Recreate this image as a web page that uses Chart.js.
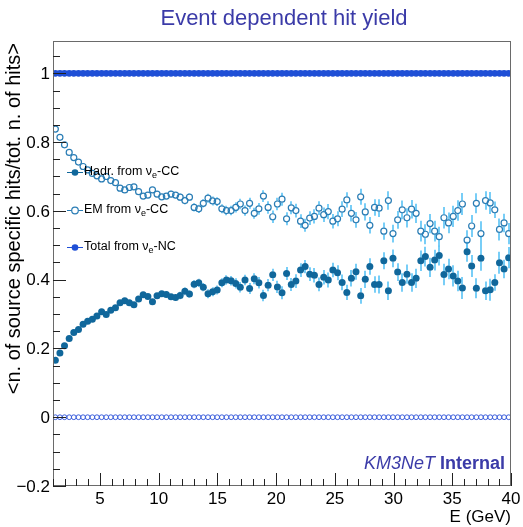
<!DOCTYPE html>
<html><head><meta charset="utf-8">
<script src="https://cdn.jsdelivr.net/npm/chart.js@4"></script>
<style>html,body{margin:0;padding:0;background:#fff}#wrap{width:523px;height:527px}</style>
</head><body><div id="wrap"><canvas id="c" width="523" height="527"></canvas></div>
<script>
// ---------- data ----------
const energy = [1.20,1.59,1.98,2.38,2.77,3.17,3.56,3.95,4.35,4.74,
5.14,5.53,5.92,6.32,6.71,7.11,7.50,7.89,8.29,8.68,
9.08,9.47,9.86,10.26,10.65,11.05,11.44,11.83,12.23,12.62,
13.02,13.41,13.80,14.20,14.59,14.98,15.38,15.77,16.17,16.56,
16.95,17.35,17.74,18.14,18.53,18.92,19.32,19.71,20.11,20.50,
20.89,21.29,21.68,22.08,22.47,22.86,23.26,23.65,24.05,24.44,
24.83,25.23,25.62,26.02,26.41,26.80,27.20,27.59,27.98,28.38,
28.77,29.17,29.56,29.95,30.35,30.74,31.14,31.53,31.92,32.32,
32.71,33.11,33.50,33.89,34.29,34.68,35.08,35.47,35.86,36.26,
36.65,37.05,37.44,37.83,38.23,38.62,39.02,39.41,39.80];

const hadrCC = [0.166,0.187,0.208,0.229,0.246,0.255,0.270,0.279,0.285,0.294,
0.307,0.299,0.311,0.318,0.333,0.339,0.333,0.327,0.344,0.356,
0.351,0.336,0.353,0.359,0.357,0.350,0.348,0.354,0.366,0.358,
0.387,0.391,0.378,0.359,0.365,0.370,0.391,0.399,0.397,0.389,
0.378,0.399,0.374,0.403,0.391,0.354,0.384,0.414,0.379,0.362,
0.418,0.386,0.396,0.428,0.438,0.416,0.413,0.386,0.407,0.399,
0.428,0.420,0.392,0.363,0.404,0.423,0.353,0.401,0.438,0.386,
0.386,0.455,0.368,0.462,0.422,0.392,0.416,0.392,0.404,0.455,
0.467,0.436,0.457,0.470,0.415,0.431,0.411,0.396,0.376,0.481,
0.440,0.375,0.462,0.368,0.371,0.392,0.449,0.431,0.464];

const emCC = [0.838,0.814,0.792,0.770,0.755,0.742,0.729,0.719,0.709,0.702,
0.693,0.700,0.688,0.682,0.666,0.661,0.668,0.670,0.656,0.643,
0.646,0.661,0.649,0.641,0.643,0.649,0.646,0.640,0.630,0.640,
0.610,0.606,0.622,0.637,0.629,0.627,0.606,0.601,0.601,0.610,
0.620,0.601,0.622,0.593,0.606,0.643,0.610,0.583,0.620,0.634,
0.577,0.609,0.601,0.570,0.558,0.579,0.584,0.608,0.589,0.598,
0.570,0.577,0.605,0.632,0.593,0.574,0.641,0.597,0.558,0.610,
0.608,0.541,0.630,0.534,0.574,0.603,0.580,0.605,0.593,0.541,
0.532,0.563,0.541,0.525,0.580,0.565,0.584,0.601,0.620,0.515,
0.556,0.622,0.534,0.630,0.623,0.603,0.546,0.565,0.534];

const totalNC = [1,1,1,1,1,1,1,1,1,1, 1,1,1,1,1,1,1,1,1,1,
1,1,1,1,1,1,1,1,1,1, 1,1,1,1,1,1,1,1,1,1, 1,1,1,1,1,1,1,1,1,1,
1,1,1,1,1,1,1,1,1,1, 1,1,1,1,1,1,1,1,1,1, 1,1,1,1,1,1,1,1,1,1,
1,1,1,1,1,1,1,1,1,1, 1,1,1,1,1,1,1,1,1];

const emNC = [0,0,0,0,0,0,0,0,0,0, 0,0,0,0,0,0,0,0,0,0,
0,0,0,0,0,0,0,0,0,0, 0,0,0,0,0,0,0,0,0,0, 0,0,0,0,0,0,0,0,0,0,
0,0,0,0,0,0,0,0,0,0, 0,0,0,0,0,0,0,0,0,0, 0,0,0,0,0,0,0,0,0,0,
0,0,0,0,0,0,0,0,0,0, 0,0,0,0,0,0,0,0,0];

// statistical uncertainty of the CC fractions (same for Hadr. and EM)
const ccErr = [0.004,0.004,0.004,0.004,0.005,0.005,0.005,0.005,0.006,0.006,
0.006,0.006,0.007,0.007,0.007,0.007,0.008,0.008,0.008,0.008,
0.009,0.009,0.009,0.009,0.010,0.010,0.010,0.011,0.011,0.011,
0.012,0.012,0.012,0.013,0.013,0.013,0.013,0.014,0.014,0.015,
0.015,0.015,0.016,0.016,0.017,0.017,0.018,0.018,0.018,0.019,
0.019,0.019,0.020,0.020,0.019,0.020,0.021,0.020,0.021,0.022,
0.021,0.022,0.023,0.022,0.024,0.023,0.023,0.025,0.024,0.024,
0.026,0.025,0.027,0.026,0.026,0.027,0.028,0.027,0.028,0.030,
0.029,0.028,0.030,0.029,0.031,0.030,0.031,0.030,0.032,0.029,
0.032,0.029,0.036,0.027,0.032,0.024,0.032,0.027,0.031];

const yMajor = [-0.2,0,0.2,0.4,0.6,0.8,1];
const yLabels = ['\u22120.2','0','0.2','0.4','0.6','0.8','1'];
const yMinorStep = 0.05;
const xMajor = [5,10,15,20,25,30,35,40];
const xLabels = ['5','10','15','20','25','30','35','40'];
const xMinorStep = 1;

const legendItems = [
  {pre:'Hadr. from \u03bd', sub:'e', post:'-CC', ds:0},
  {pre:'EM from \u03bd', sub:'e', post:'-CC', ds:1},
  {pre:'Total from \u03bd', sub:'e', post:'-NC', ds:2}
];

// ---------- styles ----------
const C_HADR = '#10679b';
const C_EM = '#2a7db5';
const C_NC = '#1f4fd6';
const C_NC0 = '#3a5ddb';
const C_ERR = '#62c6f6';
const C_TITLE = '#3b3ba8';
const FONT = '"Liberation Sans", Arial, Helvetica, sans-serif';

function pts(ys){ return ys.map((y,i)=>({x:energy[i], y:y})); }

const rootPlugin = {
  id:'rootStyle',
  beforeDatasetsDraw(chart){
    const ctx = chart.ctx;
    const xs = chart.scales.x, ys = chart.scales.y;
    ctx.save();
    ctx.strokeStyle = C_ERR; ctx.lineWidth = 1.7;
    [hadrCC, emCC].forEach(series=>{
      series.forEach((v,i)=>{
        const px = Math.round(xs.getPixelForValue(energy[i]));
        const y1 = ys.getPixelForValue(v+ccErr[i]);
        const y2 = ys.getPixelForValue(v-ccErr[i]);
        const yc = ys.getPixelForValue(v);
        const g = 3.3;
        ctx.beginPath();
        if (yc-g > y1){ ctx.moveTo(px,y1); ctx.lineTo(px,yc-g); }
        if (yc+g < y2){ ctx.moveTo(px,yc+g); ctx.lineTo(px,y2); }
        ctx.stroke();
      });
    });
    ctx.restore();
  },
  afterDraw(chart){
    const ctx = chart.ctx, a = chart.chartArea;
    const xs = chart.scales.x, ys = chart.scales.y;
    ctx.save();
    // frame
    ctx.strokeStyle = '#6a6a6a'; ctx.lineWidth = 1;
    ctx.strokeRect(a.left+0.5, a.top+0.5, a.right-a.left-1, a.bottom-a.top-1);
    // y ticks
    ctx.strokeStyle = '#222';
    ctx.beginPath();
    for (let k=0; ; k++){
      const v = ys.min + k*yMinorStep;
      if (v > ys.max+1e-9) break;
      const isMaj = yMajor.some(m=>Math.abs(m-v)<1e-6);
      const py = Math.round(ys.getPixelForValue(v))+0.5;
      ctx.moveTo(a.left, py); ctx.lineTo(a.left + (isMaj?13:7), py);
    }
    // x ticks
    for (let v = xs.min; v <= xs.max+1e-9; v += xMinorStep){
      const isMaj = xMajor.some(m=>Math.abs(m-v)<1e-6);
      const px = Math.round(xs.getPixelForValue(v))+0.5;
      ctx.moveTo(px, a.bottom); ctx.lineTo(px, a.bottom-(isMaj?13:7));
    }
    ctx.stroke();
    // tick labels
    ctx.fillStyle = '#000';
    ctx.font = '17px ' + FONT;
    ctx.textAlign = 'right'; ctx.textBaseline = 'middle';
    yMajor.forEach((v,i)=>{ ctx.fillText(yLabels[i], 50, ys.getPixelForValue(v)+1); });
    ctx.textAlign = 'center'; ctx.textBaseline = 'alphabetic';
    xMajor.forEach((v,i)=>{ ctx.fillText(xLabels[i], xs.getPixelForValue(v), 504); });
    // axis titles
    ctx.textAlign = 'right';
    ctx.fillText('E (GeV)', 511, 522);
    ctx.save();
    ctx.font = '20px ' + FONT;
    ctx.translate(20, 43); ctx.rotate(-Math.PI/2);
    ctx.textAlign = 'right'; ctx.textBaseline = 'alphabetic';
    ctx.fillText('<n. of source specific hits/tot. n. of hits>', 0, 0);
    ctx.restore();
    // title
    ctx.fillStyle = C_TITLE;
    ctx.font = '22px ' + FONT; ctx.textAlign = 'center';
    ctx.fillText('Event dependent hit yield', 284, 25);
    // KM3NeT Internal
    ctx.textAlign = 'left';
    ctx.font = 'bold 18px ' + FONT;
    const w2 = ctx.measureText('Internal').width;
    ctx.font = 'italic 18px ' + FONT;
    const w1 = ctx.measureText('KM3NeT ').width;
    const xr = 505, xl = xr - w1 - w2;
    ctx.fillText('KM3NeT ', xl, 469);
    ctx.font = 'bold 18px ' + FONT;
    ctx.fillText('Internal', xl + w1, 469);
    // legend
    const rows = [172, 210, 247];
    legendItems.forEach((it, k)=>{
      const y = rows[k];
      const ds = chart.data.datasets[it.ds];
      ctx.strokeStyle = ds.borderColor; ctx.lineWidth = 1;
      ctx.beginPath(); ctx.moveTo(67, y+0.5); ctx.lineTo(83, y+0.5); ctx.stroke();
      ctx.beginPath(); ctx.arc(75, y+0.5, 3.3, 0, Math.PI*2);
      if (ds.pointBackgroundColor === 'rgba(0,0,0,0)'){ ctx.fillStyle='#fff'; ctx.fill(); ctx.lineWidth=1.2; ctx.stroke(); }
      else { ctx.fillStyle = ds.pointBackgroundColor; ctx.fill(); }
      ctx.fillStyle = '#000';
      ctx.font = '12.5px ' + FONT; ctx.textBaseline = 'middle'; ctx.textAlign='left';
      let x = 84;
      ctx.fillText(it.pre, x, y); x += ctx.measureText(it.pre).width;
      ctx.font = '9px ' + FONT;
      ctx.fillText(it.sub, x, y+4); x += ctx.measureText(it.sub).width;
      ctx.font = '12.5px ' + FONT;
      ctx.fillText(it.post, x, y);
    });
    ctx.restore();
  }
};

new Chart(document.getElementById('c'), {
  type:'scatter',
  data:{ datasets:[
    {label:'Hadr. from ve-CC', data:pts(hadrCC), showLine:false, pointRadius:3.5, pointHoverRadius:3.5,
     pointBackgroundColor:C_HADR, pointBorderColor:C_HADR, borderColor:C_HADR, pointBorderWidth:0},
    {label:'EM from ve-CC', data:pts(emCC), showLine:false, pointRadius:3, pointHoverRadius:3,
     pointBackgroundColor:'rgba(0,0,0,0)', pointBorderColor:C_EM, borderColor:C_EM, pointBorderWidth:1.2},
    {label:'Total from ve-NC', data:pts(totalNC), showLine:false, pointRadius:3.4, pointHoverRadius:3.4,
     pointBackgroundColor:C_NC, pointBorderColor:C_NC, borderColor:C_NC, pointBorderWidth:0},
    {label:'EM from ve-NC', data:pts(emNC), showLine:false, pointRadius:2.4, pointHoverRadius:2.4,
     pointBackgroundColor:'rgba(0,0,0,0)', pointBorderColor:C_NC0, borderColor:C_NC0, pointBorderWidth:1}
  ]},
  options:{
    responsive:false, animation:false, devicePixelRatio:1,
    layout:{padding:{left:53, right:12, top:41, bottom:41}},
    plugins:{legend:{display:false}, tooltip:{enabled:false}},
    events:[],
    scales:{
      x:{type:'linear', min:1, max:40, display:false},
      y:{type:'linear', min:-0.2, max:1.094, display:false}
    }
  },
  plugins:[rootPlugin]
});
</script></body></html>
